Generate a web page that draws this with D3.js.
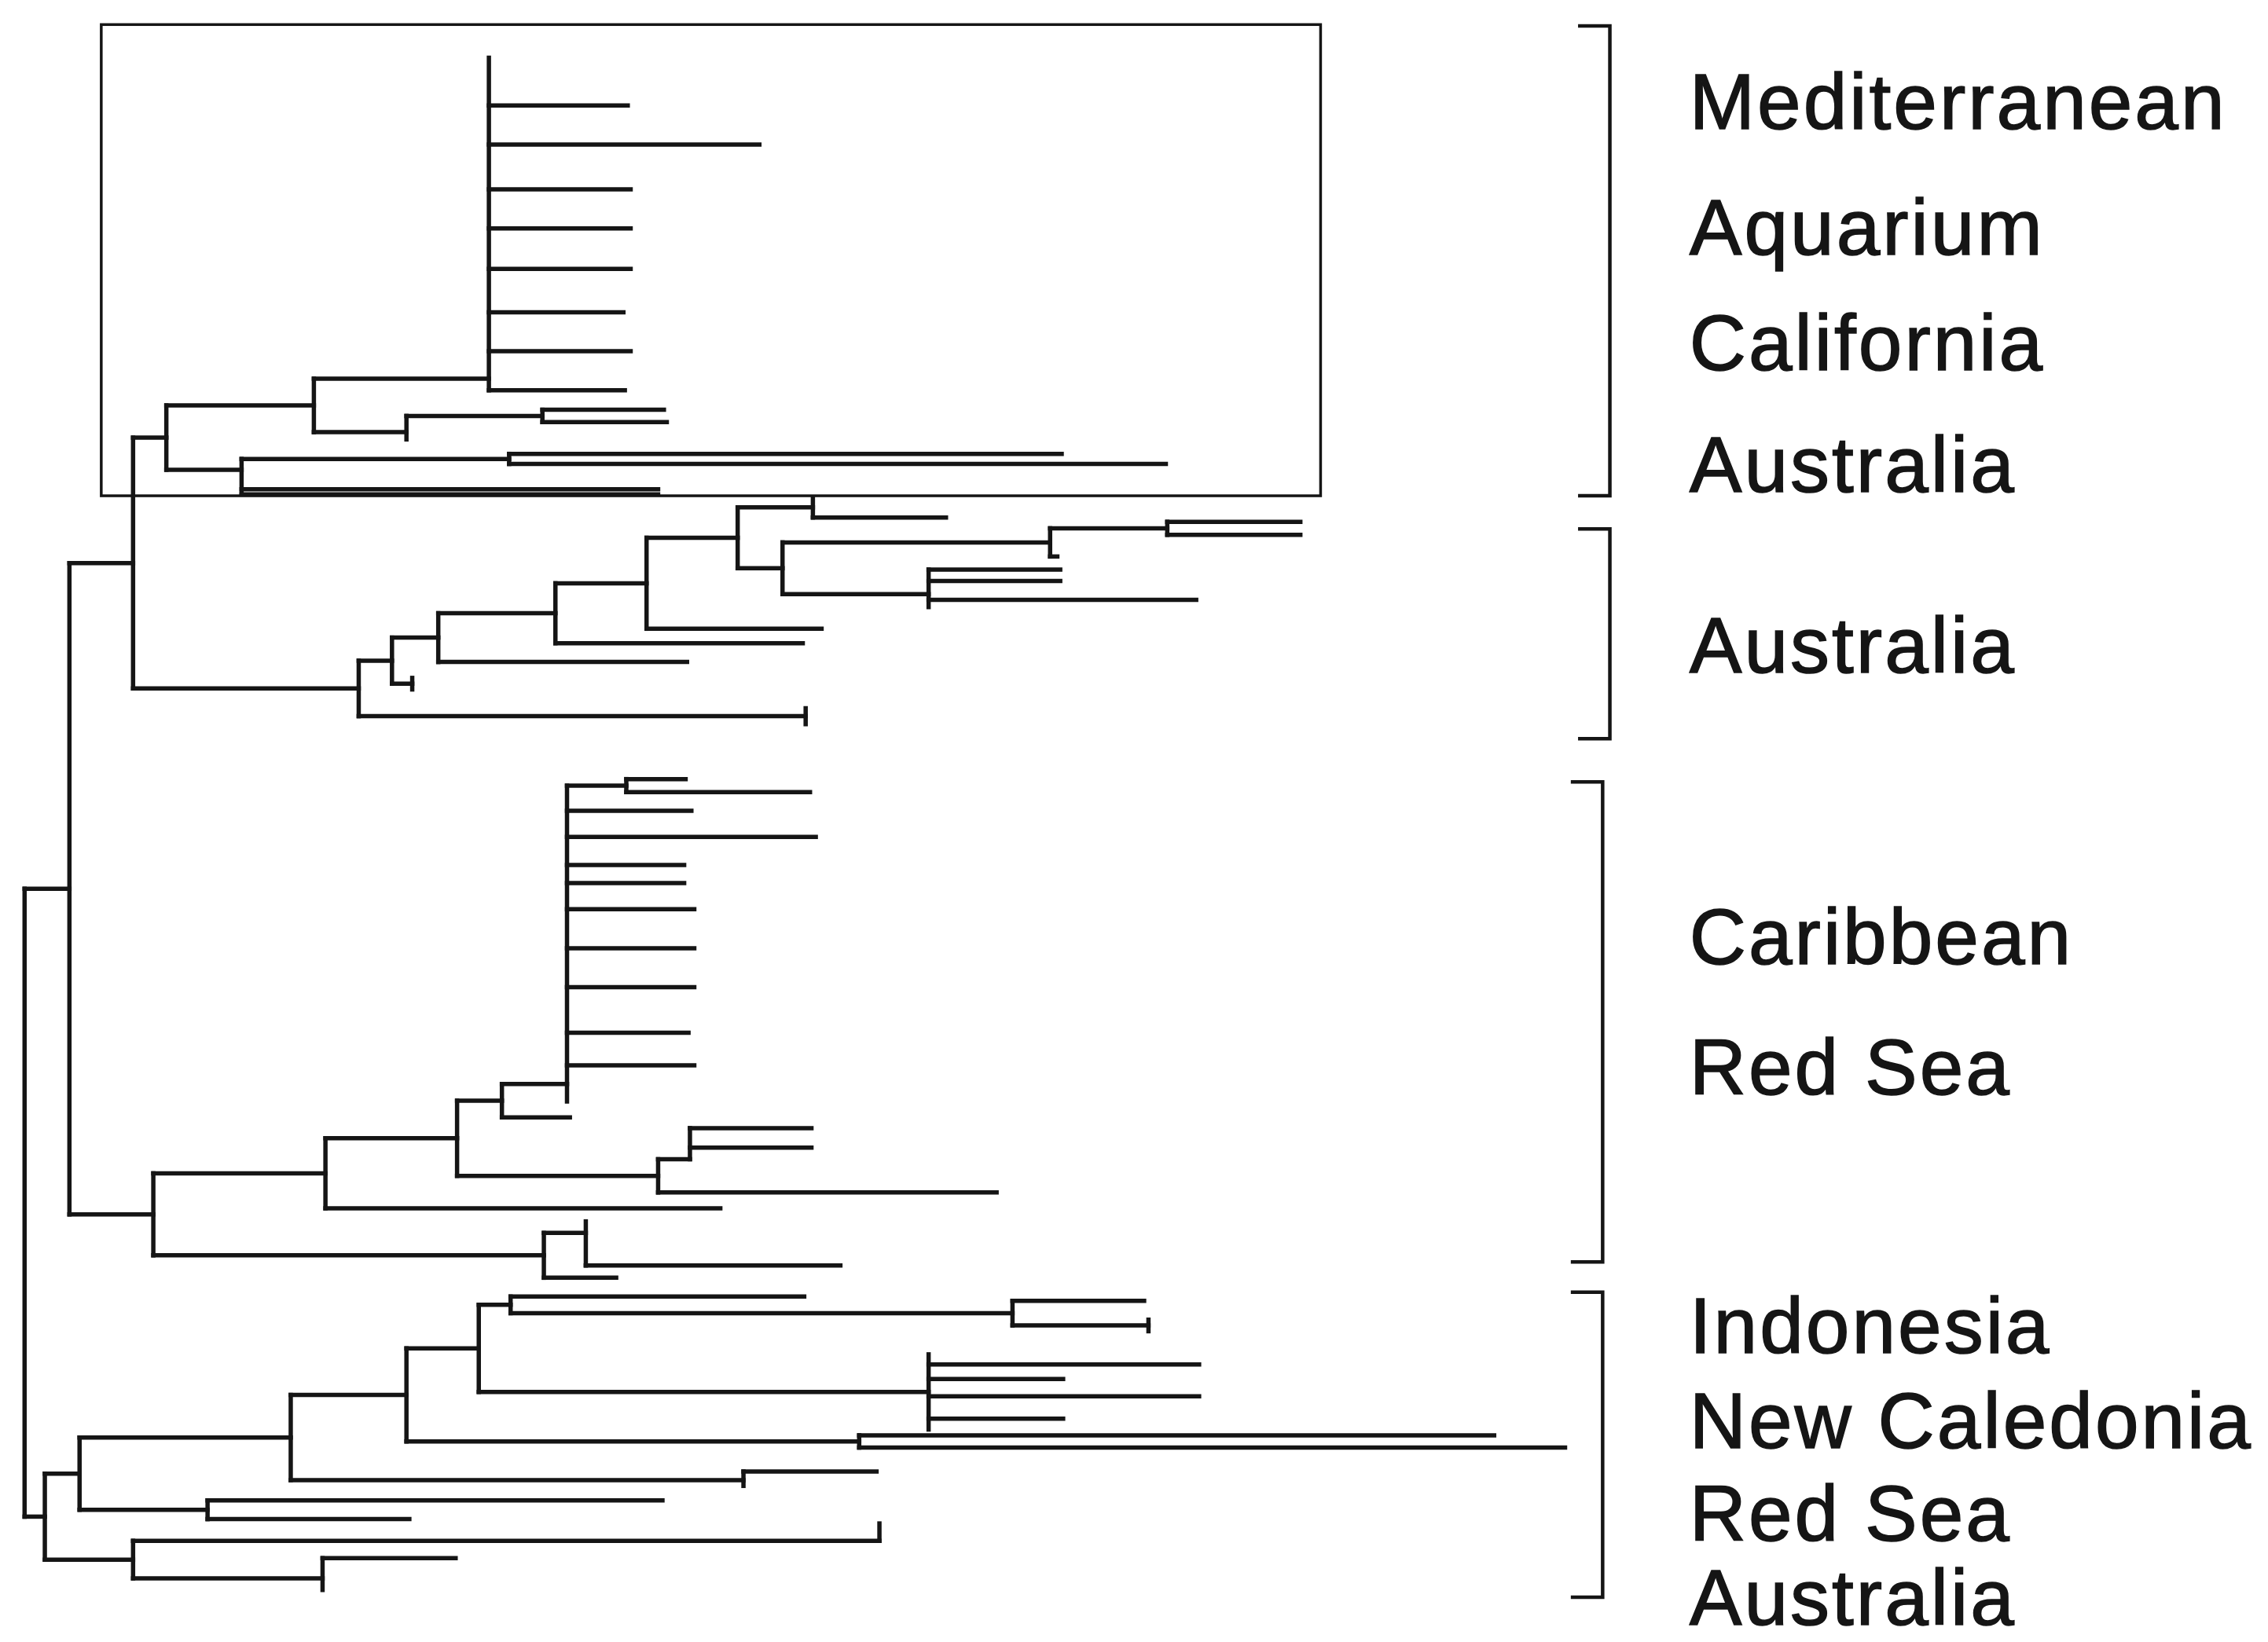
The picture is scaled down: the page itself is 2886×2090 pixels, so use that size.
<!DOCTYPE html>
<html>
<head>
<meta charset="utf-8">
<script src="https://cdn.jsdelivr.net/npm/d3@7"></script>
<style>
  html, body { margin: 0; padding: 0; background: #fff; }
  svg { display: block; }
</style>
</head>
<body>
<script>
// tree nodes: [id, parent, depth from root, row]
// row is given for tips and for nodes whose stem does not sit at the middle of their children
var rootNodes = [
  ["R", null, 0, null],
  ["P2", "R", 31, null],
  ["P1", "P2", 75, null]
];

var boxedClade = [
  ["N0", "P1", 98, null],
  ["N1", "N0", 200, null],
  ["S", "N1", 321, 262],
  ["s0", "S", 321, 40],
  ["s1", "S", 417, 73],
  ["s2", "S", 508, 100],
  ["s3", "S", 419, 131],
  ["s4", "S", 419, 158],
  ["s5", "S", 419, 186],
  ["s6", "S", 414, 216],
  ["s7", "S", 419, 243],
  ["s8", "S", 415, 270],
  ["N2", "N1", 264, 299],
  ["N3", "N2", 358, null],
  ["n3a", "N3", 442, 283.5],
  ["n3b", "N3", 444, 292],
  ["n2z", "N2", 264, 304],
  ["N4", "N0", 150, 325],
  ["N5", "N4", 335, null],
  ["n5a", "N5", 717, 314],
  ["n5b", "N5", 789, 321],
  ["n4a", "N4", 438, 338.5],
  ["n4b", "N4", 438, 342]
];

var australiaClade = [
  ["A2", "P1", 231, null],
  ["B1", "A2", 254, null],
  ["B2", "B1", 286, null],
  ["B3", "B2", 367, null],
  ["B4", "B3", 430, null],
  ["B5", "B4", 493, null],
  ["B6", "B5", 545, null],
  ["b6a", "B6", 545, 344],
  ["b6b", "B6", 637, 358],
  ["B7", "B5", 524, null],
  ["B8", "B7", 709, null],
  ["B10", "B8", 790, null],
  ["b10a", "B10", 882, 361],
  ["b10b", "B10", 882, 370],
  ["b8z", "B8", 714, 385],
  ["B9", "B7", 625, 411],
  ["b9a", "B9", 716, 394],
  ["b9b", "B9", 716, 402],
  ["b9c", "B9", 810, 415],
  ["b9z", "B9", 625, 420],
  ["b4a", "B4", 551, 435],
  ["b3a", "B3", 538, 445],
  ["b2a", "B2", 458, 458],
  ["Bt", "B1", 268, null],
  ["bta", "Bt", 268, 469],
  ["btb", "Bt", 268, 477],
  ["At", "A2", 540, null],
  ["ata", "At", 540, 490],
  ["atb", "At", 540, 501]
];

var caribbeanClade = [
  ["D0", "P2", 89, null],
  ["D1", "D0", 208, null],
  ["D2", "D1", 299, null],
  ["D3", "D2", 330, null],
  ["C0", "D3", 375, 750],
  ["C1", "C0", 416, null],
  ["c1a", "C1", 457, 539],
  ["c1b", "C1", 543, 548],
  ["c0a", "C0", 461, 561],
  ["c0b", "C0", 547, 579],
  ["c0c", "C0", 456, 598.5],
  ["c0d", "C0", 456, 611],
  ["c0e", "C0", 463, 629],
  ["c0f", "C0", 463, 656],
  ["c0g", "C0", 463, 683],
  ["c0h", "C0", 459, 714.5],
  ["c0i", "C0", 463, 737],
  ["c0z", "C0", 375, 762],
  ["d3a", "D3", 377, 773],
  ["D4", "D2", 438, null],
  ["D5", "D4", 460, 802],
  ["d5a", "D5", 544, 780.5],
  ["d5b", "D5", 544, 794],
  ["d4a", "D4", 672, 825],
  ["d1a", "D1", 481, 836],
  ["D8", "D0", 359, null],
  ["D9", "D8", 388, 853],
  ["d9z", "D9", 388, 845],
  ["d9a", "D9", 564, 875.5],
  ["d8a", "D8", 409, 884]
];

var bottomClade = [
  ["E0", "R", 14, null],
  ["E1", "E0", 38, null],
  ["E2", "E1", 184, null],
  ["E3", "E2", 264, null],
  ["E4", "E3", 314, null],
  ["E5", "E4", 336, null],
  ["e5a", "E5", 539, 897],
  ["E10", "E5", 683, null],
  ["e10a", "E10", 774, 900],
  ["E10t", "E10", 777, null],
  ["e10b", "E10t", 777, 913],
  ["e10c", "E10t", 777, 921],
  ["E11", "E4", 625, null],
  ["e11z", "E11", 625, 937],
  ["e11a", "E11", 812, 944],
  ["e11b", "E11", 718, 954],
  ["e11c", "E11", 812, 966],
  ["e11d", "E11", 718, 981.5],
  ["e11y", "E11", 625, 989],
  ["E12", "E3", 577, null],
  ["e12a", "E12", 1016, 993],
  ["e12b", "E12", 1065, 1001.5],
  ["E6", "E2", 497, 1024],
  ["e6a", "E6", 589, 1018],
  ["e6z", "E6", 497, 1028],
  ["E7", "E1", 126.5, null],
  ["e7a", "E7", 441, 1038],
  ["e7b", "E7", 266, 1051],
  ["E9", "E0", 75, null],
  ["E9t", "E9", 591, 1066],
  ["e9a", "E9t", 591, 1054],
  ["e9b", "E9t", 591, 1066],
  ["E13", "E9", 206, 1092],
  ["e13a", "E13", 298, 1078],
  ["e13z", "E13", 206, 1100]
];

// boxed group (depth range, row range)
var boxDepths = [53, 896];
var boxRows = [17, 343];

// brackets and the place names beside them
var bracketRows = [[18, 343], [366, 511], [541, 873], [894, 1105]];
var labelNames = ["Mediterranean", "Aquarium", "California", "Australia", "Australia",
                  "Caribbean", "Red Sea", "Indonesia", "New Caledonia", "Red Sea", "Australia"];
var labelRows = [89, 176, 256, 340, 465, 667, 757, 936, 1002, 1066, 1124];

var w = 2886;
var h = 2090;
var k = w / 1568;
var ink = "#151515";

var svg = d3.select("body").append("svg").attr("width", w).attr("height", h);
svg.append("rect").attr("width", w).attr("height", h).attr("fill", "#fff");

var x = d3.scaleLinear().domain([0, 1000]).range([17 * k, 1017 * k]);
var y = d3.scaleLinear().domain([0, 1136]).range([0, h]);

var table = [].concat(rootNodes, boxedClade, australiaClade, caribbeanClade, bottomClade)
  .map(function (r) { return {id: r[0], parent: r[1], depth: r[2], row: r[3]}; });

var root = d3.stratify()
  .id(function (d) { return d.id; })
  .parentId(function (d) { return d.parent; })(table);

// where each stem joins its node: given row, or the middle of the children
root.eachAfter(function (n) {
  if (n.data.row != null) { n.at = n.data.row; return; }
  var ys = n.children.map(function (c) { return c.at; });
  n.at = (d3.min(ys) + d3.max(ys)) / 2;
});

var g = svg.append("g")
  .attr("fill", "none")
  .attr("stroke", ink)
  .attr("stroke-linecap", "square");

// box round the first group
g.append("rect")
  .attr("x", x(boxDepths[0]))
  .attr("y", y(boxRows[0]))
  .attr("width", x(boxDepths[1]) - x(boxDepths[0]))
  .attr("height", y(boxRows[1]) - y(boxRows[0]))
  .attr("stroke-width", 3.5);

var nodes = root.descendants();

// vertical bars of the internal nodes
g.selectAll("path.v")
  .data(nodes.filter(function (n) { return n.children; }))
  .enter().append("path")
  .attr("class", "v")
  .attr("stroke-width", 5.5)
  .attr("d", function (n) {
    var ys = n.children.map(function (c) { return c.at; }).concat([n.at]);
    return "M" + x(n.data.depth) + "," + y(d3.min(ys)) + "V" + y(d3.max(ys));
  });

// horizontal branches
g.selectAll("path.hz")
  .data(nodes.filter(function (n) { return n.parent && n.data.depth > n.parent.data.depth; }))
  .enter().append("path")
  .attr("class", "hz")
  .attr("stroke-width", 5.5)
  .attr("d", function (n) {
    return "M" + x(n.parent.data.depth) + "," + y(n.at) + "H" + x(n.data.depth);
  });

// brackets
var bracketX = [1113, 1113, 1108, 1108];
g.selectAll("path.br")
  .data(bracketRows)
  .enter().append("path")
  .attr("class", "br")
  .attr("stroke-width", 4.5)
  .attr("stroke-linecap", "butt")
  .attr("d", function (d, i) {
    var x1 = bracketX[i] * k, x0 = x1 - 22 * k;
    return "M" + x0 + "," + y(d[0]) + "H" + x1 + "V" + y(d[1]) + "H" + x0;
  });

svg.selectAll("text")
  .data(labelNames)
  .enter().append("text")
  .attr("x", 1168 * k)
  .attr("y", function (d, i) { return y(labelRows[i]); })
  .attr("font-family", "'Liberation Sans', Arial, Helvetica, sans-serif")
  .attr("font-size", 100)
  .attr("letter-spacing", 3)
  .attr("fill", ink)
  .attr("stroke", ink)
  .attr("stroke-width", 1.5)
  .text(function (d) { return d; });
</script>
</body>
</html>
